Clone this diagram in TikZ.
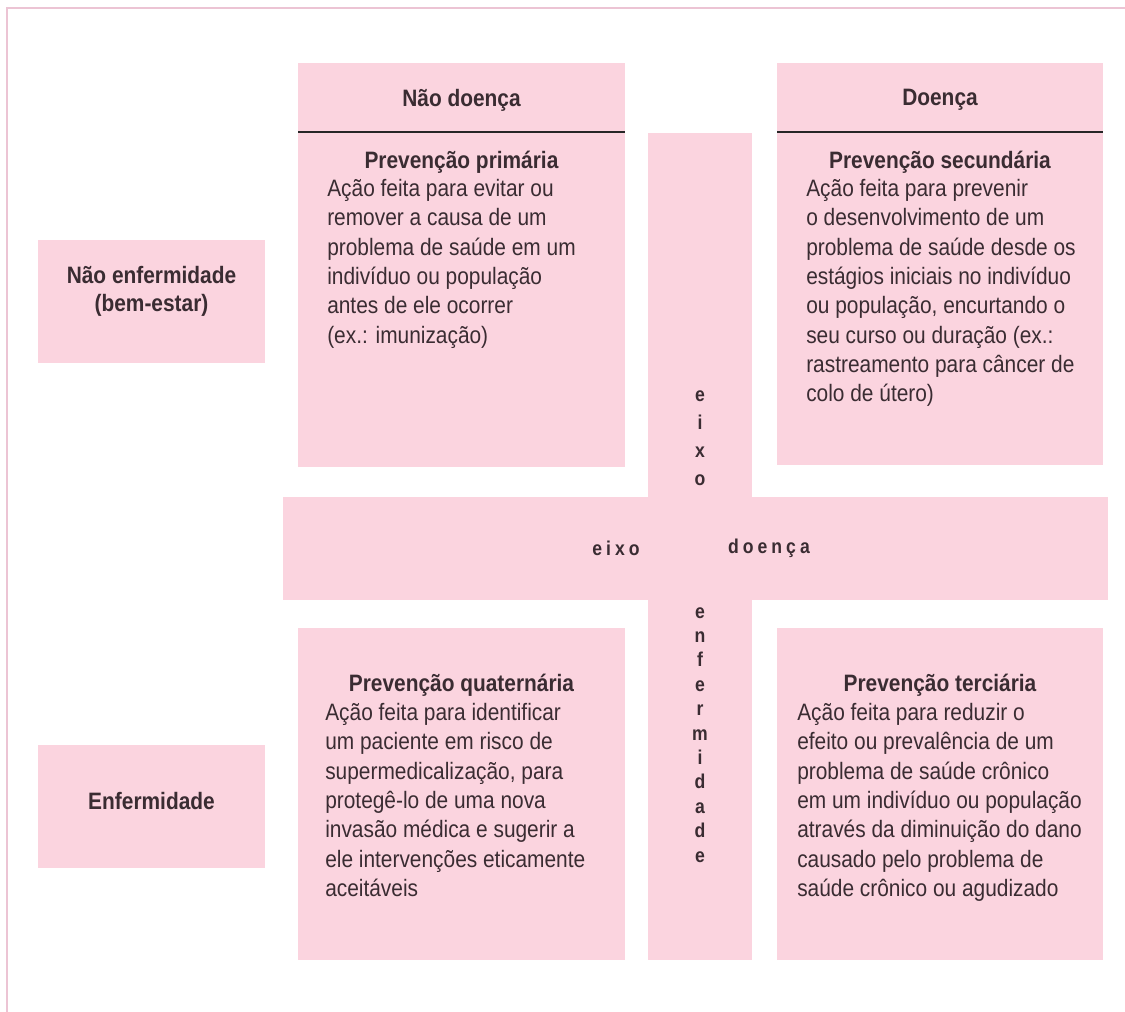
\documentclass[tikz,border=0pt]{standalone}
\usepackage{fontspec}
\setmainfont{Liberation Sans}[FakeStretch=0.88]
\usepackage{tikz}

\definecolor{boxpink}{RGB}{251,212,223}
\definecolor{framepink}{RGB}{236,196,212}
\definecolor{inkgray}{RGB}{58,44,50}

\tikzset{
  pinkbox/.style={fill=boxpink},
  headrule/.style={black!85, line width=1.5pt},
  bodytext/.style={anchor=north west, align=left, inner sep=0pt, text=inkgray,
    font=\fontsize{17.8}{22}\selectfont},
  titletext/.style={inner sep=0pt, text=inkgray, font=\fontsize{17.8}{22}\selectfont\bfseries},
  labeltext/.style={align=center, inner sep=0pt, text=inkgray, font=\fontsize{17.8}{21}\selectfont\bfseries},
  axistext/.style={align=center, inner sep=0pt, text=inkgray, font=\fontsize{15}{21}\selectfont\bfseries}
}

\begin{document}
\begin{tikzpicture}[x=0.75pt,y=-0.75pt]
		\useasboundingbox (0,0) rectangle (1125,1012);
		\draw[framepink, line width=1.2pt] (7,1012) -- (7,8) -- (1125,8);
		\fill[pinkbox] (38,240) rectangle (265,363);
		\fill[pinkbox] (38,745) rectangle (265,868);
		\fill[pinkbox] (298,63) rectangle (625,467);
		\fill[pinkbox] (777,63) rectangle (1103,465);
		\fill[pinkbox] (648,133) rectangle (752,960);
		\fill[pinkbox] (283,497) rectangle (1108,600);
		\fill[pinkbox] (298,628) rectangle (625,960);
		\fill[pinkbox] (777,628) rectangle (1103,960);
		\draw[headrule] (298,132) -- (625,132);
		\draw[headrule] (777,132) -- (1103,132);
		\node[labeltext] (bemestar) at (151.5,291) {Não enfermidade\\(bem-estar)};
		\node[labeltext] (enferm) at (151.5,801) {Enfermidade};
		\node[titletext] (naodoenca) at (461.5,100) {Não doença};
		\node[titletext] (doenca) at (940,100) {Doença};
		\node[titletext] (primtitle) at (461.5,162) {Prevenção primária};
		\node[bodytext] (primbody) at (327,179) {Ação feita para evitar ou\\remover a causa de um\\problema de saúde em um\\indivíduo ou população\\antes de ele ocorrer\\(ex.: imunização)};
		\node[titletext] (sectitle) at (940,162) {Prevenção secundária};
		\node[bodytext] (secbody) at (806,179) {Ação feita para prevenir\\o desenvolvimento de um\\problema de saúde desde os\\estágios iniciais no indivíduo\\ou população, encurtando o\\seu curso ou duração (ex.:\\rastreamento para câncer de\\colo de útero)};
		\node[titletext] (quattitle) at (461.5,685) {Prevenção quaternária};
		\node[bodytext] (quatbody) at (325,703) {Ação feita para identificar\\um paciente em risco de\\supermedicalização, para\\protegê-lo de uma nova\\invasão médica e sugerir a\\ele intervenções eticamente\\aceitáveis};
		\node[titletext] (tertitle) at (940,685) {Prevenção terciária};
		\node[bodytext] (terbody) at (797,703) {Ação feita para reduzir o\\efeito ou prevalência de um\\problema de saúde crônico\\em um indivíduo ou população\\através da diminuição do dano\\causado pelo problema de\\saúde crônico ou agudizado};
		\node[axistext, anchor=north] (eixov) at (700,390) {e\\i\\x\\o};
		\node[axistext, anchor=north, font=\fontsize{15}{18.3}\selectfont\bfseries] (enfaxis) at (700,607) {e\\n\\f\\e\\r\\m\\i\\d\\a\\d\\e};
		\node[axistext, font=\fontsize{15}{18}\selectfont\bfseries\addfontfeature{LetterSpace=20}] (eixoh) at (616,548) {eixo};
		\node[axistext, font=\fontsize{15}{18}\selectfont\bfseries\addfontfeature{LetterSpace=20}] (doencah) at (769,548) {doença};
	\end{tikzpicture}
\end{document}
